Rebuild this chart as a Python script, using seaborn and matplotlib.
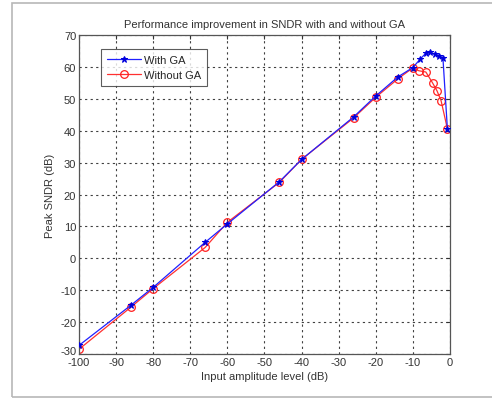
import numpy as np
import pandas as pd
import matplotlib
matplotlib.use('Agg')
import matplotlib.pyplot as plt
import matplotlib.transforms as mtransforms
import seaborn as sns
from matplotlib.patches import Rectangle

# Data
x_ga = [-100, -86, -80, -66, -60, -46, -40, -26, -20, -14, -10, -8, -6.5, -5.4, -4, -3, -1.9, -0.7]
y_ga = [-27.3, -14.7, -9.1, 5.0, 10.8, 24.0, 31.0, 44.3, 50.9, 56.9, 59.8, 62.5, 64.3, 64.6, 64.0, 63.4, 62.8, 40.6]

x_nga = [-100, -86, -80, -66, -60, -46, -40, -26, -20, -14, -10, -8.4, -6.5, -4.7, -3.5, -2.4, -0.7]
y_nga = [-28.5, -15.3, -9.5, 3.4, 11.3, 23.8, 31.0, 44.0, 50.5, 56.3, 59.7, 58.8, 58.4, 55.0, 52.5, 49.4, 40.6]

xticks = list(range(-100, 1, 10))
yticks = list(range(-30, 71, 10))

sns.set_style('white')
plt.rcParams['font.family'] = ['Liberation Sans', 'DejaVu Sans']
plt.rcParams['font.size'] = 8
plt.rcParams['axes.unicode_minus'] = False

fig = plt.figure(figsize=(4.92, 4.02), dpi=100)
ax = fig.add_axes([0.1606, 0.1169, 0.754, 0.7935])

df_ga = pd.DataFrame({'x': x_ga, 'y': y_ga})
df_nga = pd.DataFrame({'x': x_nga, 'y': y_nga})

sns.lineplot(data=df_ga, x='x', y='y', ax=ax, color='#2020ff', lw=0.9,
             marker='*', markersize=4.5, markeredgecolor='#0000dd',
             markerfacecolor='#0000dd', label='With GA', sort=False, zorder=3)
sns.lineplot(data=df_nga, x='x', y='y', ax=ax, color='#ff3030', lw=0.9,
             marker='o', markersize=5.5, markerfacecolor='none',
             markeredgecolor='#ff2020', markeredgewidth=0.9,
             label='Without GA', sort=False, zorder=2)

ax.set_xlim(-100, 0)
ax.set_ylim(-30, 70)
ax.set_xticks(xticks)
ax.set_yticks(yticks)
ax.grid(True, linestyle=(0, (2, 3)), color='#404040', lw=0.8)
ax.tick_params(direction='in', length=3, top=True, right=True, labelsize=8,
               colors='#333333', pad=2)
for s in ax.spines.values():
    s.set_color('#555555')
    s.set_linewidth(0.9)

# nudge the bottom y label up a little, as in the original
lab = ax.get_yticklabels()[0]
lab.set_transform(lab.get_transform() +
                  mtransforms.ScaledTranslation(0, 3 / 72, fig.dpi_scale_trans))

ax.set_xlabel('Input amplitude level (dB)', fontsize=8, color='#333333', labelpad=3)
ax.set_ylabel('Peak SNDR (dB)', fontsize=8, color='#333333', labelpad=4)
ax.set_title('Performance improvement in SNDR with and without GA', fontsize=8,
             color='#333333', pad=6)

leg = ax.legend(loc='upper left', bbox_to_anchor=(0.045, 0.975), fontsize=8,
                frameon=True, fancybox=False, handlelength=3.0,
                borderpad=0.55, labelspacing=0.45, handletextpad=0.3)
leg.get_frame().set_edgecolor('#333333')
leg.get_frame().set_linewidth(0.8)

# outer frame of the screenshot
fig.patches.append(Rectangle((12 / 492, 4 / 402), 1.2, 394 / 402,
                             transform=fig.transFigure, fill=False,
                             edgecolor='#b8b8b8', lw=1.2))

fig.savefig('out.png', dpi=100)
